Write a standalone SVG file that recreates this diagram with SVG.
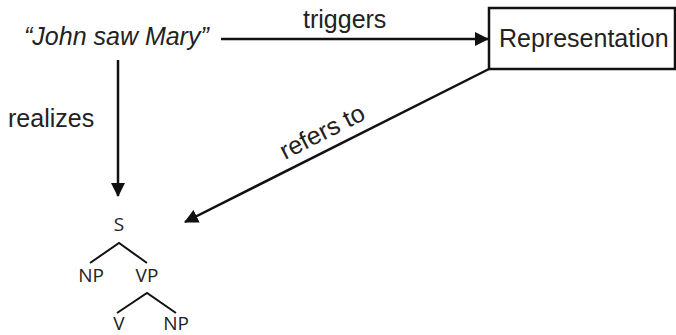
<svg xmlns="http://www.w3.org/2000/svg" width="676" height="335" viewBox="0 0 676 335">
  <style>
    .lbl { font-family: "Liberation Sans", Arial, sans-serif; font-size: 25px; fill: #222; }
    .tree { font-family: "Open Sans", "Noto Sans", sans-serif; font-size: 19px; fill: #222; text-anchor: middle; }
    .edge { stroke: #111; stroke-width: 2.5; fill: none; }
    .branch { stroke: #111; stroke-width: 2; fill: none; }
  </style>
  <defs>
    <marker id="arrow" markerUnits="userSpaceOnUse" markerWidth="14" markerHeight="14" viewBox="0 0 14 14" refX="13" refY="7" orient="auto">
      <path d="M0,0 L14,7 L0,14 Z" fill="#111"/>
    </marker>
  </defs>

  <rect width="676" height="335" fill="#fff"/>

  <g id="sentence">
    <text class="lbl" x="24" y="45" font-style="italic">“John saw Mary”</text>
  </g>

  <g id="representation">
    <rect x="489" y="8" width="186" height="61" fill="#fff" stroke="#111" stroke-width="2.5"/>
    <text class="lbl" x="499" y="47">Representation</text>
  </g>

  <g id="tree">
    <text class="tree" x="119" y="231">S</text>
    <path class="branch" d="M90,263 L119,243 L147,263"/>
    <text class="tree" x="91" y="282">NP</text>
    <text class="tree" x="147" y="282">VP</text>
    <path class="branch" d="M117,313 L147,293 L176,313"/>
    <text class="tree" x="119" y="330">V</text>
    <text class="tree" x="176" y="330">NP</text>
  </g>

  <g id="connectors">
    <line class="edge" x1="221" y1="39" x2="488" y2="39" marker-end="url(#arrow)"/>
    <text class="lbl" x="303" y="28">triggers</text>

    <line class="edge" x1="118" y1="60" x2="118" y2="196" marker-end="url(#arrow)"/>
    <text class="lbl" x="8" y="127">realizes</text>

    <line class="edge" x1="489" y1="69" x2="185" y2="222" marker-end="url(#arrow)"/>
    <text class="lbl" transform="translate(285,160) rotate(-26.8)">refers to</text>
  </g>
</svg>
